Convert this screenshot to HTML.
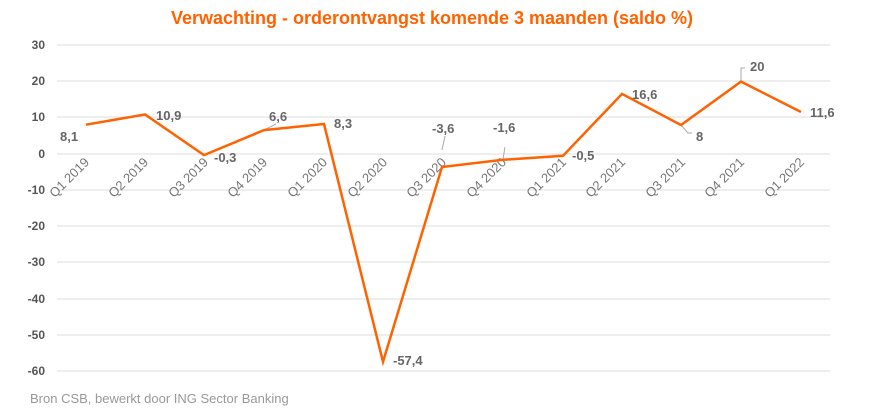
<!DOCTYPE html>
<html><head><meta charset="utf-8"><style>
body{margin:0;background:#fff;width:874px;height:415px;overflow:hidden;font-family:"Liberation Sans",sans-serif}
</style></head><body>
<svg width="874" height="415" xmlns="http://www.w3.org/2000/svg" font-family="Liberation Sans, sans-serif">
<text x="432" y="24" text-anchor="middle" fill="#FF6200" font-size="18" font-weight="bold">Verwachting  - orderontvangst komende 3 maanden (saldo %)</text>
<g stroke="#e3e3e3" stroke-width="1.2">
<line x1="57" x2="830" y1="45" y2="45"/><line x1="57" x2="830" y1="81" y2="81"/><line x1="57" x2="830" y1="117" y2="117"/><line x1="57" x2="830" y1="154" y2="154"/><line x1="57" x2="830" y1="190" y2="190"/><line x1="57" x2="830" y1="226" y2="226"/><line x1="57" x2="830" y1="262" y2="262"/><line x1="57" x2="830" y1="299" y2="299"/><line x1="57" x2="830" y1="335" y2="335"/><line x1="57" x2="830" y1="371" y2="371"/>
</g>
<g font-size="12" font-weight="bold" fill="#555" text-anchor="end">
<text x="45" y="49">30</text><text x="45" y="85">20</text><text x="45" y="121">10</text><text x="45" y="158">0</text><text x="45" y="194">-10</text><text x="45" y="230">-20</text><text x="45" y="266">-30</text><text x="45" y="303">-40</text><text x="45" y="339">-50</text><text x="45" y="375">-60</text>
</g>
<g font-size="13" fill="#777" text-anchor="end">
<text transform="translate(90,163) rotate(-45)">Q1 2019</text>
<text transform="translate(149,163) rotate(-45)">Q2 2019</text>
<text transform="translate(209,163) rotate(-45)">Q3 2019</text>
<text transform="translate(268,163) rotate(-45)">Q4 2019</text>
<text transform="translate(328,163) rotate(-45)">Q1 2020</text>
<text transform="translate(388,163) rotate(-45)">Q2 2020</text>
<text transform="translate(447,163) rotate(-45)">Q3 2020</text>
<text transform="translate(507,163) rotate(-45)">Q4 2020</text>
<text transform="translate(567,163) rotate(-45)">Q1 2021</text>
<text transform="translate(626,163) rotate(-45)">Q2 2021</text>
<text transform="translate(686,163) rotate(-45)">Q3 2021</text>
<text transform="translate(745,163) rotate(-45)">Q4 2021</text>
<text transform="translate(805,163) rotate(-45)">Q1 2022</text>
</g>
<g stroke="#aaa" stroke-width="1" fill="none">
<path d="M264 130 L276 124"/><path d="M442 150 L445 136"/><path d="M503 159 L505 147"/><path d="M681 125 L688 133 L692 133"/><path d="M741 82 L741 68 L745 68"/>
</g>
<polyline fill="none" stroke="#FF6200" stroke-width="2.5" stroke-linejoin="miter" points="86,124.7 145,114.5 204,155.1 264,130.1 324,124 383,361.8 442,167 503,159.8 563,155.8 622,93.9 681,125 741,81.6 801,112"/>
<g font-size="13" font-weight="bold" fill="#666">
<text x="60" y="141">8,1</text><text x="156" y="120">10,9</text><text x="214" y="162">-0,3</text><text x="269" y="121">6,6</text><text x="334" y="128">8,3</text><text x="393" y="365">-57,4</text><text x="432" y="133">-3,6</text><text x="493" y="132">-1,6</text><text x="572" y="160">-0,5</text><text x="632" y="99">16,6</text><text x="696" y="141">8</text><text x="750" y="71">20</text><text x="810" y="117">11,6</text>
</g>
<text x="30" y="403" font-size="13" fill="#999">Bron CSB, bewerkt door ING Sector Banking</text>
</svg>
</body></html>
